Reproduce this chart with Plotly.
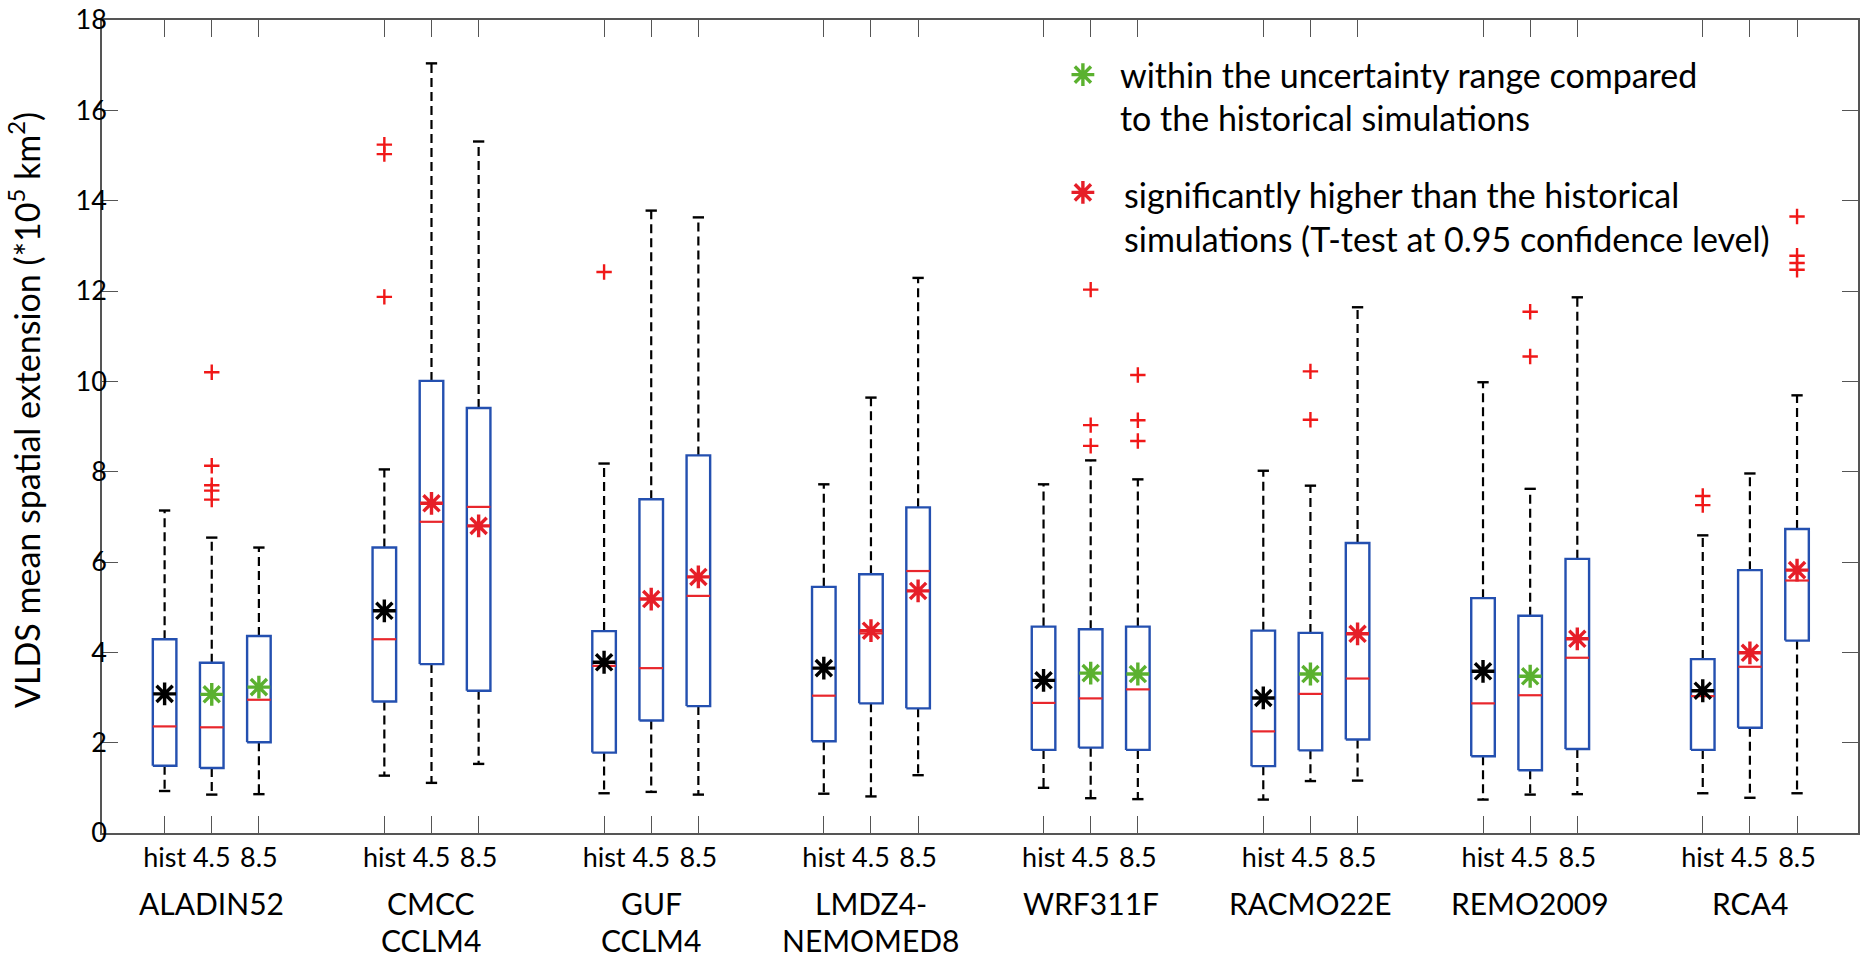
import plotly.graph_objects as go

# Regional climate models and the three simulation sets per model
models = ["ALADIN52", "CMCC\nCCLM4", "GUF\nCCLM4", "LMDZ4-\nNEMOMED8",
          "WRF311F", "RACMO22E", "REMO2009", "RCA4"]
scenarios = ["hist", "4.5", "8.5"]

# Box statistics (10^5 km^2), ordered model by model: hist, RCP4.5, RCP8.5
whisker_low = [0.93, 0.85, 0.86,  1.27, 1.11, 1.53,  0.88, 0.91, 0.85,
               0.87, 0.81, 1.28,  1.00, 0.77, 0.75,  0.74, 1.15, 1.16,
               0.74, 0.85, 0.86,  0.88, 0.78, 0.88]
q1 = [1.49, 1.44, 2.01,  2.91, 3.74, 3.15,  1.78, 2.49, 2.81,
      2.03, 2.87, 2.76,  1.84, 1.89, 1.84,  1.48, 1.83, 2.07,
      1.70, 1.39, 1.86,  1.84, 2.33, 4.26]
median = [2.36, 2.34, 2.95,  4.29, 6.89, 7.22,  3.70, 3.65, 5.25,
          3.04, 4.42, 5.80,  2.88, 2.98, 3.18,  2.25, 3.08, 3.42,
          2.87, 3.05, 3.88,  3.03, 3.68, 5.59]
q3 = [4.29, 3.77, 4.36,  6.32, 10.01, 9.41,  4.47, 7.39, 8.36,
      5.45, 5.73, 7.21,  4.57, 4.51, 4.57,  4.48, 4.43, 6.42,
      5.20, 4.81, 6.07,  3.85, 5.82, 6.73]
whisker_high = [7.14, 6.54, 6.32,  8.05, 17.04, 15.31,  8.18, 13.78, 13.63,
                7.72, 9.64, 12.29,  7.72, 8.25, 7.83,  8.02, 7.69, 11.64,
                9.98, 7.62, 11.86,  6.59, 7.96, 9.69]
mean = [3.08, 3.07, 3.23,  4.92, 7.30, 6.80,  3.78, 5.18, 5.67,
        3.65, 4.48, 5.36,  3.38, 3.54, 3.52,  2.99, 3.52, 4.41,
        3.58, 3.47, 4.30,  3.15, 3.99, 5.82]
# hist = reference mean, same = within uncertainty range, higher = significantly higher
mean_status = ["hist", "same", "same",  "hist", "higher", "higher",
               "hist", "higher", "higher",  "hist", "higher", "higher",
               "hist", "same", "same",  "hist", "same", "higher",
               "hist", "same", "higher",  "hist", "higher", "higher"]
outliers = [[], [10.2, 8.13, 7.70, 7.58, 7.38], [],
            [15.24, 15.03, 11.87], [], [],
            [12.42], [], [],
            [], [], [],
            [], [12.03, 9.03, 8.57], [10.14, 9.14, 8.68],
            [], [10.22, 9.15], [],
            [], [11.54, 10.55], [],
            [7.46, 7.26], [], [13.65, 12.78, 12.62, 12.47]]

legend_lines = [
    ["within the uncertainty range compared", "to the historical simulations"],
    ["significantly higher than the historical",
     "simulations (T-test at 0.95 confidence level)"],
]

# Layout geometry (axis units)
GROUP_STEP = 4.661
BOX_W = 0.5
CAP_W = 0.24
FONT = "Lato"

BOX_BLUE = "#2450b0"
MED_RED = "#e8262c"
OUT_RED = "#f01818"
MEAN_COLORS = {"hist": "#000000", "same": "#5bb12f", "higher": "#e61e28"}

positions = [g * GROUP_STEP + k for g in range(len(models)) for k in range(len(scenarios))]
tick_text = [s for _ in models for s in scenarios]

wx, wy, cx, cy, bx, by, mx, my, ox, oy = [], [], [], [], [], [], [], [], [], []
for i, p in enumerate(positions):
    # dashed whiskers
    wx += [p, p, None, p, p, None]
    wy += [q3[i], whisker_high[i], None, q1[i], whisker_low[i], None]
    # whisker caps
    cx += [p - CAP_W / 2, p + CAP_W / 2, None, p - CAP_W / 2, p + CAP_W / 2, None]
    cy += [whisker_high[i], whisker_high[i], None, whisker_low[i], whisker_low[i], None]
    # box outline
    l, r = p - BOX_W / 2, p + BOX_W / 2
    bx += [l, r, r, l, l, None]
    by += [q1[i], q1[i], q3[i], q3[i], q1[i], None]
    # median line
    mx += [l, r, None]
    my += [median[i], median[i], None]
    # outliers
    ox += [p] * len(outliers[i])
    oy += outliers[i]

fig = go.Figure()
fig.add_trace(go.Scatter(x=wx, y=wy, mode="lines", hoverinfo="skip",
                         line=dict(color="black", width=2.2, dash="9px,5px")))
fig.add_trace(go.Scatter(x=cx, y=cy, mode="lines", hoverinfo="skip",
                         line=dict(color="black", width=2.4)))
fig.add_trace(go.Scatter(x=bx, y=by, mode="lines", hoverinfo="skip",
                         line=dict(color=BOX_BLUE, width=2.4)))
fig.add_trace(go.Scatter(x=mx, y=my, mode="lines", hoverinfo="skip",
                         line=dict(color=MED_RED, width=2.2)))
fig.add_trace(go.Scatter(x=ox, y=oy, mode="markers", hoverinfo="skip",
                         marker=dict(symbol="cross-thin-open", size=11, color=OUT_RED,
                                     line=dict(color=OUT_RED, width=2.4))))
for status, color in MEAN_COLORS.items():
    xs = [p for p, s in zip(positions, mean_status) if s == status]
    ys = [m for m, s in zip(mean, mean_status) if s == status]
    fig.add_trace(go.Scatter(x=xs, y=ys, mode="markers", hoverinfo="skip",
                             marker=dict(symbol="asterisk-open", size=19, color=color,
                                         line=dict(color=color, width=3.4))))

# Key: asterisk symbols on an overlay in axis-fraction units
key_x = 0.5586
key_y = [0.9328, 0.788]
key_colors = [MEAN_COLORS["same"], MEAN_COLORS["higher"]]
fig.add_trace(go.Scatter(x=[key_x, key_x], y=key_y, xaxis="x2", yaxis="y2",
                         mode="markers", hoverinfo="skip",
                         marker=dict(symbol="asterisk-open", size=19, color=key_colors,
                                     line=dict(color=key_colors, width=3.4))))

annotations = []
key_text_x = [0.5785, 0.5808]
key_text_y = [[0.9328, 0.880], [0.7858, 0.7318]]
for block, lines in enumerate(legend_lines):
    for j, line in enumerate(lines):
        annotations.append(dict(text=line, xref="paper", yref="paper",
                                x=key_text_x[block], y=key_text_y[block][j],
                                xanchor="left", yanchor="middle", showarrow=False,
                                font=dict(family=FONT, size=34, color="black")))

# Model names below each group of three boxes
for g, name in enumerate(models):
    for j, line in enumerate(name.split("\n")):
        annotations.append(dict(text=line, xref="x", yref="paper",
                                x=g * GROUP_STEP + 1, y=-0.0855 - j * 0.0455,
                                xanchor="center", yanchor="middle", showarrow=False,
                                font=dict(family=FONT, size=30, color="black")))

annotations.append(dict(text="VLDS mean spatial extension (*10<sup>5</sup> km<sup>2</sup>)",
                        xref="paper", yref="paper", x=-0.044, y=0.52,
                        textangle=-90, xanchor="center", yanchor="middle",
                        showarrow=False, font=dict(family=FONT, size=34, color="black")))

axis_common = dict(showline=True, linecolor="#555555", linewidth=1.5,
                   ticks="inside", tickcolor="#555555", tickwidth=1.2,
                   mirror="ticks", showgrid=False, zeroline=False)

fig.update_layout(
    width=1862, height=961,
    margin=dict(l=102, r=2, t=18, b=128),
    paper_bgcolor="white", plot_bgcolor="white",
    showlegend=False,
    xaxis=dict(range=[-1.328, 35.92], tickvals=positions, ticktext=tick_text,
               ticklen=17, tickfont=dict(family=FONT, size=27, color="black"),
               **axis_common),
    yaxis=dict(range=[0, 18], dtick=2, ticklen=16, ticklabelstandoff=-12,
               tickfont=dict(family=FONT, size=27, color="black"), **axis_common),
    xaxis2=dict(overlaying="x", range=[0, 1], visible=False),
    yaxis2=dict(overlaying="y", range=[0, 1], visible=False),
    annotations=annotations,
)

fig.write_html("out.html")
